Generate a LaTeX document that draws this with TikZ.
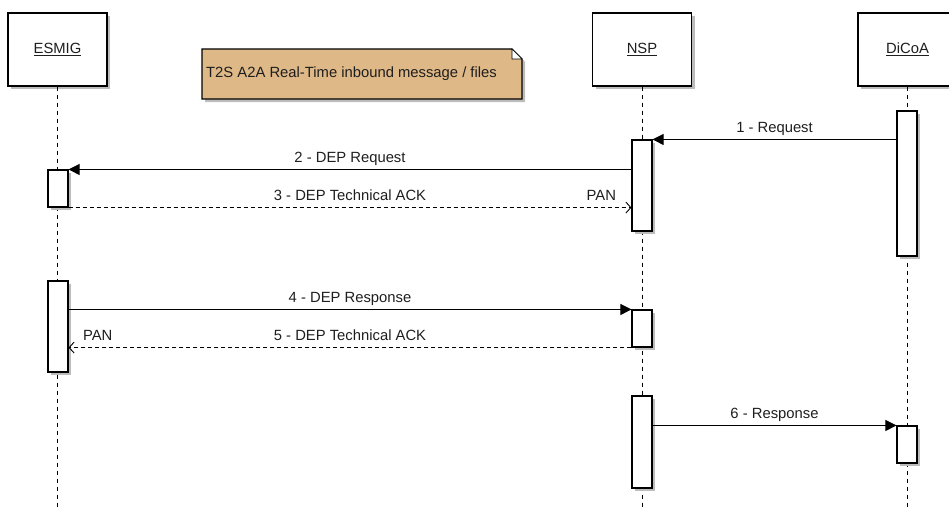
\documentclass[tikz,border=0pt]{standalone}
\usepackage{fontspec}
\setmainfont{Liberation Sans}
\usepackage{xcolor}
\usepackage{tikz}
\usetikzlibrary{arrows.meta}
\usetikzlibrary{shadows}
\usetikzlibrary{positioning}

\definecolor{notefill}{RGB}{222,184,135}
\definecolor{shadowgray}{RGB}{188,188,188}
\definecolor{inkgray}{RGB}{30,30,30}

\begin{document}
\begin{tikzpicture}[x=1pt, y=-1pt,
        font=\fontsize{14.8}{17}\selectfont, text=inkgray]

        % Styles for the participants, the activation bars and the messages
        \tikzset{
            shade/.style={general shadow={fill=shadowgray,
                shadow xshift=3pt, shadow yshift=-3pt}},
            actor/.style={draw, line width=1.1pt, fill=white, shade,
                minimum width=99pt, minimum height=73pt, inner sep=0pt},
            act/.style={draw, line width=1.1pt, fill=white, shade,
                minimum width=20pt, inner sep=0pt},
            life/.style={line width=0.8pt, dash pattern=on 4pt off 4pt},
            msg/.style={line width=0.9pt,
                -{Triangle[length=11pt, width=11pt]}},
            reply/.style={line width=0.9pt, dash pattern=on 4pt off 3pt,
                -{Straight Barb[length=5pt, width=11pt]}},
            lbl/.style={anchor=base, inner sep=0pt, yshift=7pt}
        }

        \useasboundingbox (0,0) rectangle (949,507);
        \coordinate (bottom) at (0,507);

        % Participants
        \node[actor] (esmig) at (57.5,49.5) {\underline{ESMIG}};
        \node[actor] (nsp) at (642,49.5) {\underline{NSP}};
        \node[actor] (dicoa) at (907.5,49.5) {\underline{DiCoA}};

        % Lifelines
        \foreach\p in {esmig, nsp, dicoa}
        \draw[life] (\p.south) -- (\p.south |- bottom);

        % Note
        \draw[line width=1.1pt, fill=notefill, shade]
            (202,49) -- (512,49) -- (522,59) -- (522,99) -- (202,99) -- cycle;
        \draw[line width=0.6pt, fill=white] (512,49) -- (512,59) -- (522,59) -- cycle;
        \node[anchor=west, inner sep=0pt] (note) at (206,74)
            {T2S A2A Real-Time inbound message / files};

        % Activation bars
        \node[act, minimum height=37pt] (e1) at (58,188.5) {};
        \node[act, minimum height=91pt] (e2) at (58,326.5) {};
        \node[act, minimum height=91pt] (n1) at (642,185.5) {};
        \node[act, minimum height=37pt] (n2) at (642,328.5) {};
        \node[act, minimum height=92pt] (n3) at (642,442) {};
        \node[act, minimum height=145pt] (d1) at (907,183.5) {};
        \node[act, minimum height=37pt] (d2) at (907,444.5) {};

        % Messages
        \draw[msg] (d1.west |- n1.north) --
            node[lbl] (m1) {1 - Request} (n1.north east);
        \draw[msg] (n1.west |- e1.north) --
            node[lbl] (m2) {2 - DEP Request} (e1.north east);
        \draw[reply] (e1.south east) --
            node[lbl] (m3) {3 - DEP Technical ACK}
            node[lbl, pos=1, anchor=base east, xshift=-15pt] (p3) {PAN}
            (n1.west |- e1.south);
        \draw[msg] (e2.east |- n2.north) --
            node[lbl] (m4) {4 - DEP Response} (n2.north west);
        \draw[reply] (n2.south west) --
            node[lbl] (m5) {5 - DEP Technical ACK}
            node[lbl, pos=1, anchor=base west, xshift=14pt] (p5) {PAN}
            (e2.east |- n2.south);
        \draw[msg] (n3.east |- d2.north) --
            node[lbl] (m6) {6 - Response} (d2.north west);

\end{tikzpicture}
\end{document}
